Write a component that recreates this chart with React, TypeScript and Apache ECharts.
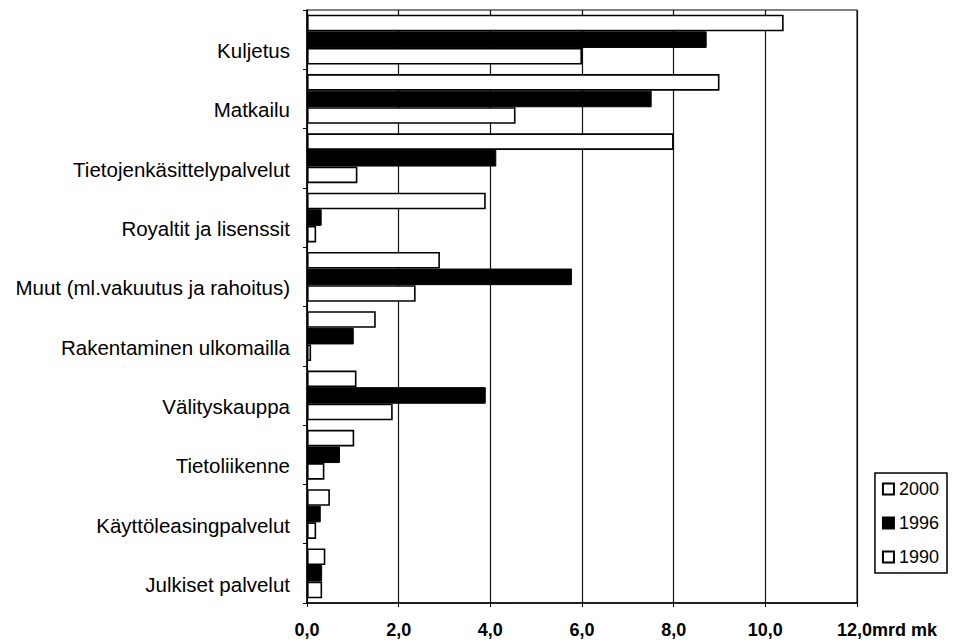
import React, { useEffect, useRef } from "react";
import * as echarts from "echarts";

const categories = [
  "Kuljetus",
  "Matkailu",
  "Tietojenkäsittelypalvelut",
  "Royaltit ja lisenssit",
  "Muut (ml.vakuutus ja rahoitus)",
  "Rakentaminen ulkomailla",
  "Välityskauppa",
  "Tietoliikenne",
  "Käyttöleasingpalvelut",
  "Julkiset palvelut",
];
const values2000 = [10.4, 9.0, 8.0, 3.9, 2.9, 1.5, 1.08, 1.03, 0.5, 0.4];
const values1996 = [8.72, 7.52, 4.13, 0.32, 5.78, 1.02, 3.9, 0.72, 0.3, 0.33];
const values1990 = [6.0, 4.55, 1.1, 0.2, 2.37, 0.09, 1.87, 0.38, 0.2, 0.33];
const seriesNames = ["2000", "1996", "1990"];
const axisMin = 0;
const axisMax = 12;
const axisStep = 2;
const unitLabel = "mrd mk";

const FONT = "'Liberation Sans', Arial, sans-serif";

export default function App() {
  const ref = useRef<HTMLDivElement>(null);
  useEffect(() => {
    if (!ref.current) return;
    const chart = echarts.init(ref.current, undefined, { renderer: "svg" });
    const whiteStyle = { color: "#fff", borderColor: "#000", borderWidth: 1.6 };
    const blackStyle = { color: "#000", borderColor: "#000", borderWidth: 1 };
    chart.setOption({
      animation: false,
      backgroundColor: "#fff",
      textStyle: { fontFamily: FONT, color: "#000" },
      grid: {
        left: 307,
        right: 96,
        top: 10,
        bottom: 40,
        show: true,
        borderColor: "#000",
        borderWidth: 1,
      },
      legend: {
        orient: "vertical",
        right: 6,
        top: 473,
        data: seriesNames,
        icon: "rect",
        itemWidth: 11,
        itemHeight: 11,
        itemGap: 16,
        padding: [7, 8, 7, 7],
        borderColor: "#000",
        borderWidth: 1.5,
        textStyle: { fontSize: 18, fontFamily: FONT, color: "#000" },
      },
      xAxis: {
        type: "value",
        min: axisMin,
        max: axisMax,
        interval: axisStep,
        axisLine: { show: true, lineStyle: { color: "#000", width: 1.5 } },
        axisTick: { show: true, length: 4, lineStyle: { color: "#000" } },
        splitLine: { show: true, lineStyle: { color: "#111", width: 1.2 } },
        axisLabel: {
          margin: 18,
          fontSize: 18,
          fontWeight: "bold",
          fontFamily: FONT,
          color: "#000",
          formatter: (v: number) =>
            v === axisMax
              ? "{u|" + v.toFixed(1).replace(".", ",") + unitLabel + "}"
              : v.toFixed(1).replace(".", ","),
          rich: {
            u: {
              fontSize: 18,
              fontWeight: "bold",
              fontFamily: FONT,
              color: "#000",
              padding: [0, 0, 0, 60],
            },
          },
        },
      },
      yAxis: {
        type: "category",
        inverse: true,
        data: categories,
        axisLine: { show: true, lineStyle: { color: "#000", width: 1.5 } },
        axisTick: { show: true, length: 4, lineStyle: { color: "#000" } },
        axisLabel: {
          margin: 17,
          fontSize: 20.5,
          fontFamily: FONT,
          color: "#000",
          verticalAlign: "top",
          lineHeight: 22,
        },
      },
      series: [
        {
          name: seriesNames[0],
          type: "bar",
          data: values2000,
          itemStyle: whiteStyle,
          barGap: "0%",
          barCategoryGap: "16%",
        },
        {
          name: seriesNames[1],
          type: "bar",
          data: values1996,
          itemStyle: blackStyle,
          barGap: "0%",
          barCategoryGap: "16%",
        },
        {
          name: seriesNames[2],
          type: "bar",
          data: values1990,
          itemStyle: whiteStyle,
          barGap: "0%",
          barCategoryGap: "16%",
        },
      ],
    });
    return () => chart.dispose();
  }, []);
  return <div ref={ref} style={{ width: 953, height: 643, position: "absolute", left: 0, top: 0 }} />;
}
